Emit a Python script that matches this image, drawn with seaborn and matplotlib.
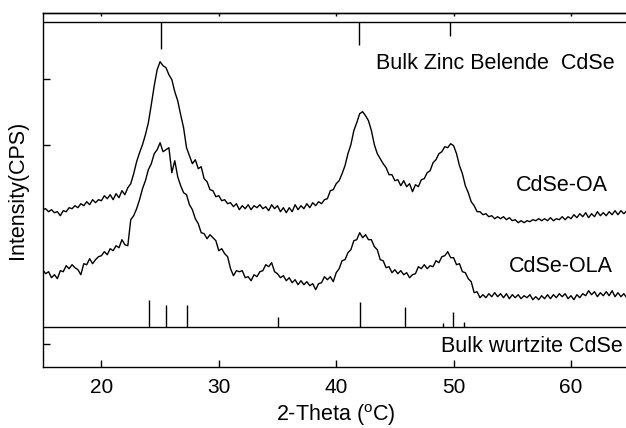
import numpy as np
import pandas as pd
import seaborn as sns
import matplotlib
matplotlib.use("Agg")
import matplotlib.pyplot as plt

# 2-theta grid, 0.25 deg step
two_theta = np.arange(15.0, 65.001, 0.25)

# CdSe-OA intensity (a.u.)
cdse_oa = [
    157, 158, 155, 157, 154, 155, 151, 156,
    155, 159, 158, 161, 159, 163, 161, 165,
    162, 167, 164, 167, 166, 171, 168, 172,
    167, 173, 169, 176, 172, 179, 183, 193,
    205, 214, 222, 232, 244, 262, 281, 297,
    305, 301, 299, 292, 287, 275, 266, 252,
    239, 219, 211, 203, 207, 198, 200, 188,
    185, 177, 176, 170, 171, 166, 167, 163,
    164, 160, 163, 157, 161, 158, 162, 157,
    161, 159, 162, 158, 160, 156, 162, 158,
    161, 155, 159, 154, 159, 155, 162, 157,
    161, 158, 163, 159, 164, 161, 165, 163,
    167, 168, 176, 177, 183, 186, 193, 201,
    213, 222, 236, 244, 253, 255, 251, 246,
    236, 222, 213, 208, 203, 199, 192, 192,
    186, 187, 181, 186, 180, 183, 175, 182,
    180, 187, 188, 194, 196, 204, 207, 213,
    215, 220, 219, 223, 221, 213, 201, 193,
    181, 174, 165, 161, 155, 155, 152, 153,
    150, 151, 148, 150, 148, 150, 147, 149,
    146, 147, 144, 146, 144, 146, 145, 147,
    146, 148, 146, 148, 146, 149, 146, 148,
    147, 150, 147, 150, 148, 152, 149, 153,
    150, 154, 149, 153, 150, 155, 151, 154,
    151, 155, 152, 156, 152, 156, 153, 156,
    154,
]

# CdSe-OLA intensity (a.u.)
cdse_ola = [
    97, 93, 95, 89, 92, 88, 96, 95,
    101, 98, 102, 99, 97, 92, 103, 102,
    108, 103, 107, 110, 111, 115, 112, 118,
    116, 121, 119, 127, 122, 121, 147, 151,
    158, 167, 178, 186, 197, 203, 213, 217,
    224, 215, 217, 219, 194, 206, 190, 181,
    174, 172, 162, 157, 148, 143, 134, 133,
    128, 132, 129, 126, 116, 118, 113, 110,
    98, 91, 96, 95, 96, 89, 90, 86,
    92, 90, 95, 96, 102, 100, 104, 95,
    93, 89, 91, 86, 89, 84, 87, 82,
    86, 82, 85, 81, 83, 77, 83, 84,
    90, 87, 90, 85, 94, 98, 106, 107,
    114, 117, 126, 127, 134, 129, 132, 127,
    127, 120, 117, 107, 106, 99, 100, 94,
    97, 93, 96, 92, 94, 89, 92, 93,
    100, 98, 102, 98, 101, 100, 106, 104,
    110, 111, 115, 109, 109, 102, 103, 95,
    94, 88, 85, 74, 75, 69, 72, 69,
    73, 70, 74, 70, 73, 69, 73, 68,
    72, 69, 72, 68, 71, 69, 72, 67,
    70, 67, 71, 68, 72, 68, 72, 69,
    73, 70, 73, 68, 71, 67, 72, 69,
    73, 71, 76, 72, 75, 70, 74, 71,
    75, 71, 76, 70, 74, 70, 73, 69,
    72,
]

# reference stick patterns (position, relative intensity)
zb_pos = [25.1, 41.94, 49.7]
zb_int = [100, 82, 51]
wz_pos = [24.07, 25.52, 27.29, 35.0, 42.03, 45.9, 49.1, 49.92, 50.86]
wz_int = [100, 80, 80, 37, 91, 73, 16, 56, 20]

x_ticks = [20, 30, 40, 50, 60]

df = pd.DataFrame({"two_theta": two_theta, "OA": cdse_oa, "OLA": cdse_ola})

sns.set_style("ticks")
plt.rcParams['font.family'] = ['Liberation Sans', 'DejaVu Sans']
plt.rcParams['mathtext.fontset'] = 'custom'
plt.rcParams['mathtext.rm'] = 'Liberation Sans'
plt.rcParams['text.color'] = 'black'
plt.rcParams['axes.labelcolor'] = 'black'
plt.rcParams['xtick.color'] = 'black'
plt.rcParams['ytick.color'] = 'black'

fig = plt.figure(figsize=(6.26, 4.28), dpi=100)
ax = fig.add_axes([42.7 / 626, 61.3 / 428, 587.0 / 626, 353.4 / 428])

sns.lineplot(data=df, x="two_theta", y="OA", color="black", linewidth=1.0, ax=ax)
sns.lineplot(data=df, x="two_theta", y="OLA", color="black", linewidth=1.0, ax=ax)

# stick patterns
zb_base = 344.3
wz_base = 39.7
stick_scale = 0.27
ax.vlines(zb_pos, [zb_base - v * stick_scale for v in zb_int], zb_base, color="black", lw=1.0)
ax.vlines(wz_pos, wz_base, [wz_base + v * stick_scale for v in wz_int], color="black", lw=1.0)
ax.axhline(zb_base, color="black", lw=1.0)
ax.axhline(wz_base, color="black", lw=1.0)

ax.text(63.75, 303, "Bulk Zinc Belende  CdSe", ha="right", va="center", fontsize=15.5)
ax.text(63.15, 181, "CdSe-OA", ha="right", va="center", fontsize=15.5)
ax.text(63.58, 100, "CdSe-OLA", ha="right", va="center", fontsize=15.5)
ax.text(64.43, 20, "Bulk wurtzite CdSe", ha="right", va="center", fontsize=15.5)

ax.set_xlim(15, 65)
ax.set_ylim(0, 353.4)
ax.set_xticks(x_ticks)
ax.set_yticks([23, 221.3, 288])
ax.set_yticklabels([])
ax.tick_params(axis="x", direction="in", length=5, width=1.0, labelsize=15, pad=8)
ax.tick_params(axis="y", direction="in", length=5, width=1.0)

top = ax.secondary_xaxis("top")
top.set_xticks(x_ticks)
top.tick_params(direction="in", length=2, width=1.0, labeltop=False)
top.spines["top"].set_linewidth(1.0)

ax.set_xlabel("2-Theta ($^{\\rm o}$C)", fontsize=15.5, labelpad=4)
ax.set_ylabel("Intensity(CPS)", fontsize=15.5, labelpad=7)

for name, spine in ax.spines.items():
    spine.set_linewidth(1.0)
    spine.set_edgecolor("black")
ax.spines["right"].set_visible(False)

plt.savefig("out.png", dpi=100)
plt.close()
